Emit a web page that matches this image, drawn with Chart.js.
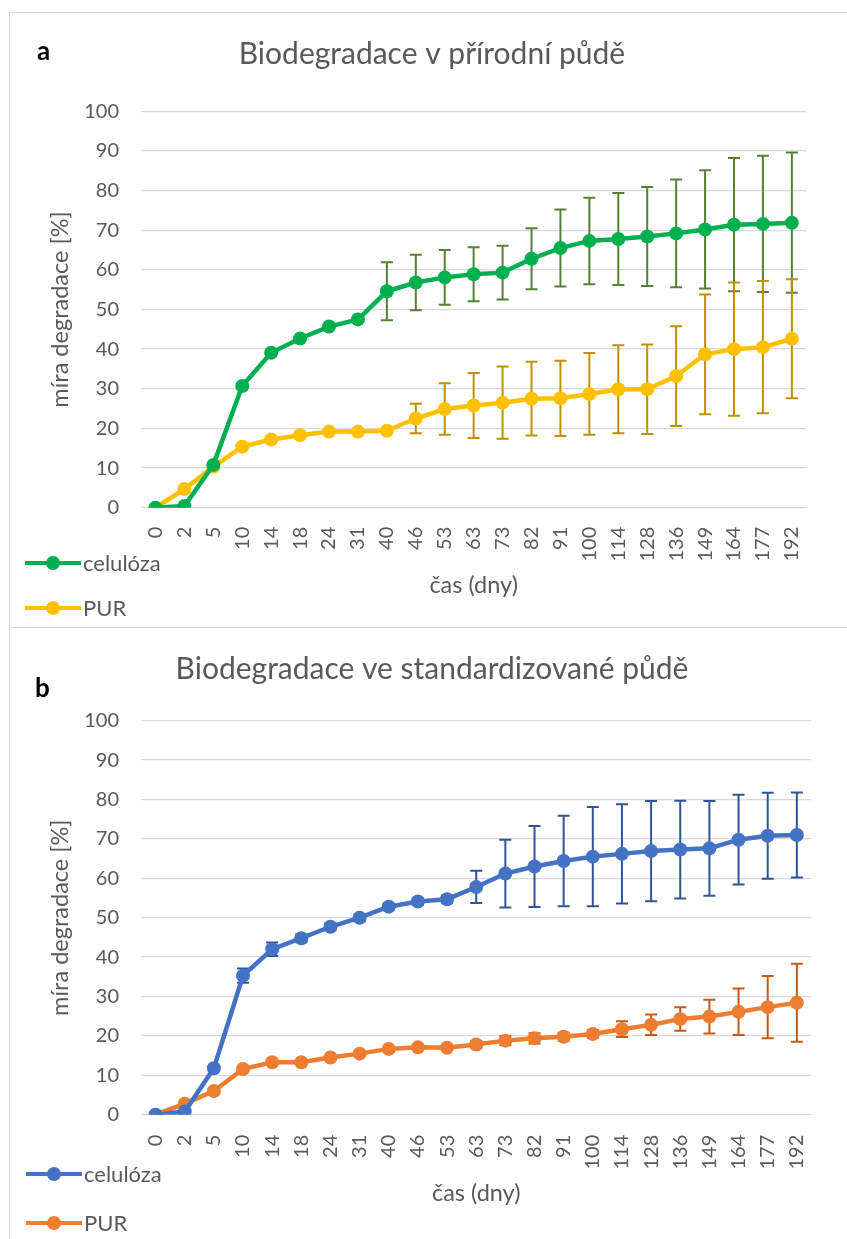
<!DOCTYPE html>
<html>
<head>
<meta charset="utf-8">
<script src="https://cdn.jsdelivr.net/npm/chart.js@4.4.1/dist/chart.umd.min.js"></script>
<style>
  html, body { margin: 0; padding: 0; background: #fff; }
  body { width: 847px; height: 1239px; position: relative; overflow: hidden; font-family: Lato, "Open Sans", sans-serif; }
  .box { position: absolute; border-color: #d9d9d9; border-style: solid; box-sizing: border-box; }
  canvas { position: absolute; }
  .holder { position: absolute; width: 40px; height: 30px; z-index: 5; }
  .holder .pl { position: absolute; left: 0; top: 0; font-family: Lato, sans-serif; font-weight: 700; font-size: 26px; line-height: 26px; color: #000; }
  .leg { position: absolute; height: 24px; z-index: 5; }
  .leg .ln { position: absolute; left: 0; top: 10px; width: 56px; height: 4px; }
  .leg .dot { position: absolute; left: 21px; top: 5px; width: 14px; height: 14px; border-radius: 50%; }
  .leg .tx { position: absolute; left: 58px; top: 0; font-size: 22px; line-height: 24px; color: #595959; white-space: nowrap; }
</style>
</head>
<body>
<div class="box" style="left:9px; top:12px; width:850px; height:616px; border-width:1.5px 0 1.5px 1.5px;"></div>
<div class="box" style="left:9px; top:627px; width:850px; height:620px; border-width:0 0 0 1.5px;"></div>

<canvas id="chartA" width="790" height="627" style="left:37px; top:0px; width:790px; height:627px;"></canvas>
<canvas id="chartB" width="802" height="612" style="left:31px; top:627px; width:802px; height:612px;"></canvas>

<div class="holder" style="left:37px; top:37px;"><div class="pl">a</div></div>
<div class="holder" style="left:35px; top:674px;"><div class="pl">b</div></div>

<div class="leg" style="left:25px; top:551px;"><div class="ln" style="background:#00B050"></div><div class="dot" style="background:#00B050"></div><div class="tx">celulóza</div></div>
<div class="leg" style="left:25px; top:596px;"><div class="ln" style="background:#FFC000"></div><div class="dot" style="background:#FFC000"></div><div class="tx">PUR</div></div>
<div class="leg" style="left:26px; top:1162px;"><div class="ln" style="background:#4472C4"></div><div class="dot" style="background:#4472C4"></div><div class="tx">celulóza</div></div>
<div class="leg" style="left:26px; top:1211px;"><div class="ln" style="background:#ED7D31"></div><div class="dot" style="background:#ED7D31"></div><div class="tx">PUR</div></div>

<script>
// ---- data ----
const days = ['0','2','5','10','14','18','24','31','40','46','53','63','73','82','91','100','114','128','136','149','164','177','192'];
const yTicks = [0,10,20,30,40,50,60,70,80,90,100];

// a) natural soil
const celA    = [0,0.4,10.8,30.7,39.1,42.7,45.7,47.5,54.6,56.8,58.1,58.9,59.3,62.8,65.5,67.3,67.8,68.4,69.2,70.2,71.4,71.6,71.9];
const celAErr = [0,0,0,0,0,0,0,0,7.3,7.0,6.9,6.8,6.8,7.7,9.7,10.9,11.6,12.5,13.6,14.9,16.8,17.2,17.7];
const purA    = [0,4.7,10.3,15.4,17.2,18.3,19.2,19.2,19.4,22.5,24.9,25.8,26.5,27.5,27.6,28.7,29.9,29.9,33.2,38.7,40.0,40.5,42.6];
const purAErr = [0,0,0,0,0,0,0,0,0,3.7,6.5,8.2,9.1,9.3,9.5,10.3,11.1,11.3,12.6,15.1,16.8,16.7,15.0];

// b) standardized soil
const celB    = [0,0.8,11.8,35.3,42.0,44.8,47.7,50.0,52.8,54.1,54.7,57.8,61.2,63.0,64.4,65.5,66.2,66.9,67.3,67.6,69.8,70.8,71.0];
const celBErr = [0,0,0,1.8,1.7,1.0,0.9,0.9,0.8,0.8,0.9,4.1,8.6,10.3,11.5,12.6,12.6,12.7,12.4,12.0,11.4,10.9,10.8];
const purB    = [0,2.8,6.0,11.6,13.3,13.3,14.5,15.5,16.7,17.1,17.0,17.8,18.8,19.4,19.8,20.5,21.7,22.8,24.3,24.9,26.1,27.3,28.4];
const purBErr = [0,0,0,0,0,0,0,0,0,0,0,0.9,1.2,1.3,1.0,1.0,2.0,2.6,3.0,4.3,5.9,7.9,9.9];

const titleA = 'Biodegradace v přírodní půdě';
const titleB = 'Biodegradace ve standardizované půdě';
const yTitle = 'míra degradace [%]';
const xTitle = 'čas (dny)';

// ---- error bar plugin (uses chart scales) ----
const errorBars = {
  id: 'errorBars',
  beforeDatasetsDraw(chart) {
    const {ctx, scales} = chart;
    const x = scales.x, y = scales.y;
    chart.data.datasets.forEach((ds, i) => {
      if (!ds.errors || !chart.isDatasetVisible(i)) return;
      ctx.save();
      ctx.strokeStyle = ds.errorColor;
      ctx.lineWidth = 2;
      ds.data.forEach((v, j) => {
        const e = ds.errors[j];
        if (!e) return;
        const px = x.getPixelForValue(j);
        const yt = y.getPixelForValue(v + e);
        const yb = y.getPixelForValue(v - e);
        const c = 6;
        ctx.beginPath();
        ctx.moveTo(px, yt); ctx.lineTo(px, yb);
        ctx.moveTo(px - c, yt); ctx.lineTo(px + c, yt);
        ctx.moveTo(px - c, yb); ctx.lineTo(px + c, yb);
        ctx.stroke();
      });
      ctx.restore();
    });
  }
};

const grey = '#595959';
const FONT = 'Lato';

function lineDs(label, data, errors, color, errColor) {
  return {
    label, data, errors, errorColor: errColor,
    borderColor: color, backgroundColor: color,
    borderWidth: 4.5, tension: 0,
    pointRadius: 7, pointBorderWidth: 0, pointBackgroundColor: color,
    pointHoverRadius: 7
  };
}

function makeChart(id, title, tPadTop, tPadBottom, yWidth, xHeight, yTitlePad, xTitlePad, xTickPad, datasets) {
  return new Chart(document.getElementById(id), {
    type: 'line',
    data: { labels: days, datasets },
    plugins: [errorBars],
    options: {
      responsive: false,
      animation: false,
      layout: { padding: 0 },
      plugins: {
        legend: { display: false },
        tooltip: { enabled: false },
        title: {
          display: true, text: title, color: grey,
          font: { family: FONT, size: 30, weight: 400, lineHeight: 1.2 },
          padding: { top: tPadTop, bottom: tPadBottom }
        }
      },
      scales: {
        x: {
          type: 'category', offset: true,
          grid: { display: false },
          border: { display: false },
          ticks: { color: grey, font: { family: FONT, size: 20 }, minRotation: 90, maxRotation: 90, autoSkip: false, padding: xTickPad },
          title: { display: true, text: xTitle, color: grey, font: { family: FONT, size: 23.5, lineHeight: 1.2 }, padding: { top: 0, bottom: xTitlePad } },
          afterFit: s => { s.height = xHeight; }
        },
        y: {
          min: 0, max: 100,
          afterBuildTicks: s => { s.ticks = yTicks.map(v => ({ value: v })); },
          grid: { color: '#d9d9d9', lineWidth: 1.3, drawTicks: false },
          border: { display: false },
          ticks: { color: grey, font: { family: FONT, size: 20 }, padding: 22 },
          title: { display: true, text: yTitle, color: grey, font: { family: FONT, size: 23.5, lineHeight: 1.2 }, padding: { top: yTitlePad, bottom: 0 } },
          afterFit: s => { s.width = yWidth; }
        }
      }
    }
  });
}

makeChart('chartA', titleA, 36, 39.3, 104, 119.3, 8.9, 27.9, 11, [
  lineDs('celulóza', celA, celAErr, '#00B050', '#548235'),
  lineDs('PUR', purA, purAErr, '#FFC000', '#BF9000')
]);

makeChart('chartB', titleB, 24, 33.7, 110, 124.3, 14.9, 31.9, 12, [
  lineDs('celulóza', celB, celBErr, '#4472C4', '#2F5597'),
  lineDs('PUR', purB, purBErr, '#ED7D31', '#C55A11')
]);
</script>
</body>
</html>
